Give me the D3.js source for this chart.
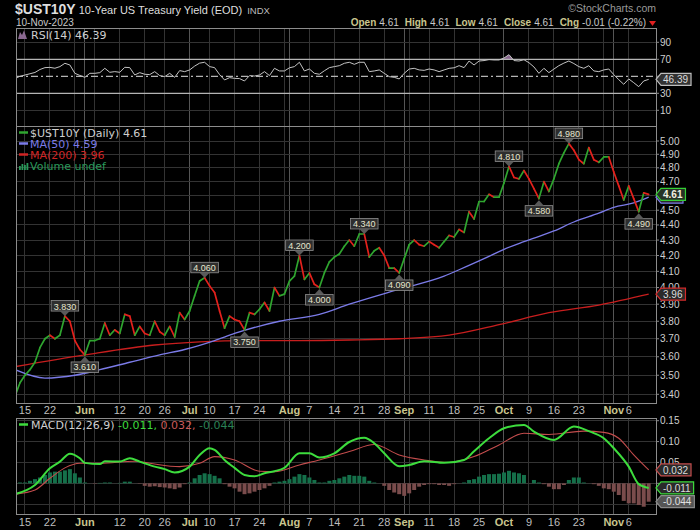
<!DOCTYPE html>
<html>
<head>
<meta charset="utf-8">
<script src="https://cdn.jsdelivr.net/npm/d3@7"></script>
<style>
    body { margin: 0; background: #000; }
    svg { display: block; }
</style>
</head>
<body>
<div id="chart"></div>
<script>
// trading days shown on the chart
const dates = [
    "2023-05-11","2023-05-12","2023-05-15","2023-05-16","2023-05-17","2023-05-18","2023-05-19","2023-05-22","2023-05-23","2023-05-24",
    "2023-05-25","2023-05-26","2023-05-30","2023-05-31","2023-06-01","2023-06-02","2023-06-05","2023-06-06","2023-06-07","2023-06-08",
    "2023-06-09","2023-06-12","2023-06-13","2023-06-14","2023-06-15","2023-06-16","2023-06-20","2023-06-21","2023-06-22","2023-06-23",
    "2023-06-26","2023-06-27","2023-06-28","2023-06-29","2023-06-30","2023-07-03","2023-07-05","2023-07-06","2023-07-07","2023-07-10",
    "2023-07-11","2023-07-12","2023-07-13","2023-07-14","2023-07-17","2023-07-18","2023-07-19","2023-07-20","2023-07-21","2023-07-24",
    "2023-07-25","2023-07-26","2023-07-27","2023-07-28","2023-07-31","2023-08-01","2023-08-02","2023-08-03","2023-08-04","2023-08-07",
    "2023-08-08","2023-08-09","2023-08-10","2023-08-11","2023-08-14","2023-08-15","2023-08-16","2023-08-17","2023-08-18","2023-08-21",
    "2023-08-22","2023-08-23","2023-08-24","2023-08-25","2023-08-28","2023-08-29","2023-08-30","2023-08-31","2023-09-01","2023-09-05",
    "2023-09-06","2023-09-07","2023-09-08","2023-09-11","2023-09-12","2023-09-13","2023-09-14","2023-09-15","2023-09-18","2023-09-19",
    "2023-09-20","2023-09-21","2023-09-22","2023-09-25","2023-09-26","2023-09-27","2023-09-28","2023-09-29","2023-10-02","2023-10-03",
    "2023-10-04","2023-10-05","2023-10-06","2023-10-09","2023-10-10","2023-10-11","2023-10-12","2023-10-13","2023-10-16","2023-10-17",
    "2023-10-18","2023-10-19","2023-10-20","2023-10-23","2023-10-24","2023-10-25","2023-10-26","2023-10-27","2023-10-30","2023-10-31",
    "2023-11-01","2023-11-02","2023-11-03","2023-11-06","2023-11-07","2023-11-08","2023-11-09","2023-11-10"
];

const closeValues = [
    3.39,3.46,3.50,3.53,3.57,3.65,3.70,3.72,3.70,3.72,
    3.83,3.80,3.69,3.64,3.61,3.69,3.69,3.70,3.79,3.72,
    3.75,3.73,3.84,3.83,3.72,3.77,3.73,3.72,3.80,3.74,
    3.72,3.77,3.71,3.85,3.81,3.86,3.95,4.04,4.06,4.01,
    3.97,3.86,3.76,3.83,3.81,3.80,3.75,3.85,3.84,3.87,
    3.91,3.86,4.00,3.95,3.96,4.04,4.07,4.20,4.05,4.09,
    4.02,4.00,4.09,4.16,4.19,4.21,4.26,4.30,4.26,4.34,
    4.34,4.19,4.23,4.25,4.20,4.12,4.12,4.09,4.18,4.27,
    4.30,4.27,4.26,4.29,4.27,4.25,4.29,4.33,4.32,4.37,
    4.35,4.49,4.44,4.56,4.56,4.61,4.59,4.59,4.69,4.81,
    4.73,4.72,4.78,4.72,4.65,4.58,4.70,4.63,4.72,4.83,
    4.91,4.98,4.93,4.86,4.83,4.95,4.86,4.84,4.88,4.88,
    4.77,4.67,4.57,4.67,4.58,4.49,4.62,4.61
];

const rsiValues = [
    47.5,50,51.5,53,54.5,58,60.2,60.5,59.5,61.4,
    65.3,63.3,53.5,51,48.8,53.5,53.5,54.3,59.4,54.7,
    55.5,54.7,60.6,60.2,51.6,54.3,52.4,52,55.5,50.8,
    49.6,53.5,48.8,56.7,55.5,57.5,62,65.5,66.5,61.4,
    60.2,52,45.7,48.4,47.6,47.3,44.5,50.8,50.3,51.5,
    55.5,50.8,59.4,56.3,56.3,60,61.4,66.5,56.3,58.6,
    53.5,52.4,56.5,60.2,61.4,62.5,65.3,66.5,64.1,66.5,
    66.5,55.5,56.3,57.5,53.5,49.6,48.8,46.9,53.5,58.5,
    59.4,57.5,57,58.6,57.5,55.5,57.5,59.4,60,62.5,
    60.2,68,63.3,68,68.5,69.6,69.2,69.2,71.5,75.5,
    68.5,68,69.5,66,61,53.5,59.4,54.3,58.5,62.5,
    65.5,68,65,61.4,59.4,62.5,56.3,55.5,57.5,58.6,
    52,46,40.6,46.9,42.5,37.8,44.5,46.39
];

const macdHist = [
    0.000,0.002,0.002,0.006,0.010,0.014,0.020,0.026,0.028,0.028,
    0.031,0.034,0.024,0.014,0.002,0.000,-0.001,0.001,0.002,0.002,
    0.000,0.001,0.004,0.004,0.000,-0.001,-0.006,-0.008,-0.007,-0.009,
    -0.010,-0.012,-0.014,-0.010,-0.002,0.002,0.012,0.020,0.024,0.022,
    0.018,0.012,-0.002,-0.008,-0.012,-0.020,-0.026,-0.024,-0.020,-0.016,
    -0.012,-0.006,0.002,0.004,0.006,0.010,0.016,0.022,0.020,0.014,
    0.008,0.002,0.002,0.006,0.008,0.012,0.016,0.020,0.018,0.018,
    0.016,0.006,0.002,0.000,-0.006,-0.016,-0.022,-0.026,-0.030,-0.024,
    -0.016,-0.008,-0.004,-0.002,-0.002,-0.004,-0.004,-0.006,-0.002,0.000,
    0.002,0.008,0.010,0.016,0.020,0.022,0.022,0.023,0.026,0.030,
    0.026,0.024,0.020,0.000,0.008,0.002,-0.002,-0.008,-0.014,-0.014,
    -0.004,0.008,0.014,0.014,0.002,0.000,-0.002,-0.006,-0.012,-0.014,
    -0.020,-0.028,-0.042,-0.048,-0.048,-0.052,-0.056,-0.044
];

const macdDates = ["2023-05-11","2023-05-17","2023-05-22","2023-05-24","2023-05-26","2023-05-31","2023-06-01","2023-06-06","2023-06-07","2023-06-12",
    "2023-06-14","2023-06-16","2023-06-22","2023-06-26","2023-06-28","2023-07-03","2023-07-06","2023-07-10","2023-07-11","2023-07-13",
    "2023-07-17","2023-07-19","2023-07-21","2023-07-25","2023-07-27","2023-07-31","2023-08-03","2023-08-07","2023-08-09","2023-08-14",
    "2023-08-17","2023-08-22","2023-08-24","2023-08-28","2023-08-31","2023-09-05","2023-09-08","2023-09-14","2023-09-20","2023-09-22",
    "2023-09-27","2023-10-02","2023-10-06","2023-10-10","2023-10-16","2023-10-20","2023-10-25","2023-10-30","2023-11-01","2023-11-06",
    "2023-11-08","2023-11-10"];
const macdValues = [-0.026,-0.004,0.036,0.052,0.071,0.060,0.049,0.046,0.053,0.052,
    0.060,0.052,0.040,0.034,0.026,0.040,0.068,0.084,0.080,0.056,
    0.037,0.020,0.017,0.024,0.029,0.037,0.072,0.072,0.062,0.072,
    0.099,0.109,0.096,0.072,0.041,0.044,0.053,0.049,0.056,0.077,
    0.108,0.132,0.140,0.124,0.104,0.136,0.125,0.108,0.084,0.040,
    -0.002,-0.011];

const signalDates = ["2023-05-11","2023-05-17","2023-05-22","2023-05-25","2023-05-31","2023-06-06","2023-06-15","2023-06-21","2023-06-29","2023-07-06",
    "2023-07-11","2023-07-17","2023-07-24","2023-07-27","2023-08-03","2023-08-09","2023-08-17","2023-08-24","2023-08-31","2023-09-08",
    "2023-09-15","2023-09-22","2023-09-29","2023-10-06","2023-10-13","2023-10-24","2023-10-30","2023-11-02","2023-11-07","2023-11-10"];
const signalValues = [-0.026,-0.016,0.012,0.037,0.048,0.048,0.053,0.048,0.040,0.048,
    0.064,0.056,0.029,0.028,0.044,0.056,0.076,0.093,0.068,0.056,
    0.050,0.064,0.092,0.120,0.117,0.125,0.122,0.108,0.068,0.032];

const ma50Dates = ["2023-05-11","2023-05-19","2023-05-30","2023-06-06","2023-06-14","2023-06-23","2023-06-30","2023-07-11","2023-07-17","2023-07-28",
    "2023-08-09","2023-08-17","2023-08-31","2023-09-14","2023-09-19","2023-09-26","2023-10-02","2023-10-06","2023-10-16","2023-10-20",
    "2023-10-27","2023-11-01","2023-11-07","2023-11-10"];
const ma50Values = [3.53,3.485,3.50,3.53,3.57,3.61,3.64,3.69,3.73,3.80,
    3.84,3.90,3.99,4.07,4.11,4.18,4.24,4.29,4.36,4.42,
    4.48,4.52,4.55,4.59];

const ma200Dates = ["2023-05-11","2023-06-01","2023-06-22","2023-07-06","2023-07-20","2023-08-03","2023-08-17","2023-08-31","2023-09-15","2023-09-29",
    "2023-10-13","2023-10-27","2023-11-10"];
const ma200Values = [3.546,3.61,3.665,3.683,3.69,3.69,3.693,3.70,3.72,3.78,3.85,3.895,3.96];

const peakDates = ["2023-05-25","2023-07-07","2023-08-03","2023-08-22","2023-10-03","2023-10-19"];
const troughDates = ["2023-06-01","2023-07-19","2023-08-09","2023-08-31","2023-10-11","2023-11-08"];

const weekTicks = ["2023-05-15","2023-05-22","2023-05-30","2023-06-05","2023-06-12","2023-06-20","2023-06-26","2023-07-10","2023-07-17","2023-07-24",
    "2023-07-31","2023-08-07","2023-08-14","2023-08-21","2023-08-28","2023-09-05","2023-09-11","2023-09-18","2023-09-25","2023-10-09",
    "2023-10-16","2023-10-23","2023-10-30","2023-11-06"];
const monthTicks = ["2023-06-01","2023-07-03","2023-08-01","2023-09-01","2023-10-02","2023-11-01"];
const monthLabels = ["Jun","Jul","Aug","Sep","Oct","Nov"];
const dayLabelDates = ["2023-05-15","2023-05-22","2023-06-12","2023-06-20","2023-06-26","2023-07-10","2023-07-17","2023-07-24","2023-08-07","2023-08-14",
    "2023-08-21","2023-08-28","2023-09-11","2023-09-18","2023-09-25","2023-10-09","2023-10-16","2023-10-23","2023-11-06"];

// grid levels; the labelled ones skip values hidden behind the value tags
const priceTicks = [3.4,3.5,3.6,3.7,3.8,3.9,4.0,4.1,4.2,4.3,4.4,4.5,4.6,4.7,4.8,4.9,5.0];
const priceTickLabels = [3.4,3.5,3.6,3.7,3.8,3.9,4.0,4.1,4.2,4.3,4.4,4.5,4.7,4.8,4.9,5.0];
const rsiTickLabels = [10,30,70,90];
const macdTicks = [-0.05,0,0.05,0.10,0.15];
const macdTickLabels = [-0.05,0.05,0.10,0.15];

const SANS = "'Liberation Sans', Arial, sans-serif";
const VERD = "'DejaVu Sans', Verdana, sans-serif";

class TreasuryChart {
    constructor(_parentElement) {
        this.parentElement = _parentElement;
        this.initVis();
    }

    initVis() {
        let vis = this;

        vis.left = 16;
        vis.right = 656;
        vis.panels = {
            rsi: { top: 28, bottom: 126 },
            main: { top: 126, bottom: 403 },
            macd: { top: 418, bottom: 514 },
        };

        vis.svg = d3.select(`#${vis.parentElement}`)
            .append("svg")
            .attr("width", 700)
            .attr("height", 530)
            .style("background", "#000");

        // Scales
        vis.x = d3.scalePoint().domain(dates).range([15, 648.7]);
        vis.yPrice = d3.scaleLog().domain([3.4, 5.0]).range([394.3, 141]);
        vis.yRsi = d3.scaleLinear().domain([30, 70]).range([93.3, 59.3]);
        vis.yMacd = d3.scaleLinear().domain([-0.05, 0.15]).range([504.2, 420.7]);

        let defs = vis.svg.append("defs");
        Object.entries(vis.panels).forEach(([key, p]) => {
            defs.append("clipPath").attr("id", "clip-" + key)
                .append("rect")
                .attr("x", vis.left).attr("y", p.top)
                .attr("width", vis.right - vis.left).attr("height", p.bottom - p.top);
        });
        defs.append("clipPath").attr("id", "clip-ob")
            .append("rect")
            .attr("x", vis.left).attr("y", vis.panels.rsi.top)
            .attr("width", vis.right - vis.left)
            .attr("height", vis.yRsi(70) - vis.panels.rsi.top);

        vis.drawHeader();
        vis.drawGrid();
        vis.drawRsi();
        vis.drawMain();
        vis.drawMacd();
        vis.drawDateAxis();
    }

    drawHeader() {
        let vis = this;
        let g = vis.svg.append("g").attr("font-family", SANS);

        let title = g.append("text").attr("x", 15).attr("y", 14).attr("fill", "#dedede");
        title.append("tspan").attr("font-size", 14).attr("font-weight", "bold").text("$UST10Y");
        title.append("tspan").attr("font-size", 11).attr("dx", 3).text("10-Year US Treasury Yield (EOD)");
        title.append("tspan").attr("font-size", 9.5).attr("dx", 5).attr("fill", "#bbb").text("INDX");

        g.append("text").attr("x", 16).attr("y", 26)
            .attr("font-size", 10).attr("fill", "#c8c8c8").text("10-Nov-2023");

        g.append("text").attr("x", 656).attr("y", 12).attr("text-anchor", "end")
            .attr("font-size", 10.5).attr("fill", "#9a9a9a").text("\u00A9StockCharts.com");

        let ohlc = g.append("text").attr("x", 646).attr("y", 26)
            .attr("text-anchor", "end").attr("font-size", 10);
        [["Open", "4.61"], ["High", "4.61"], ["Low", "4.61"], ["Close", "4.61"], ["Chg", "-0.01 (-0.22%)"]]
            .forEach((d, i) => {
                ohlc.append("tspan").attr("dx", i ? 6 : 0).attr("font-weight", "bold")
                    .attr("fill", "#c9c58e").text(d[0]);
                ohlc.append("tspan").attr("dx", 3).attr("fill", "#c8c8c8").text(d[1]);
            });
        g.append("path").attr("d", "M649,21 L656,21 L652.5,26 Z").attr("fill", "#e02020");
    }

    drawGrid() {
        let vis = this;

        Object.values(vis.panels).forEach((p) => {
            let g = vis.svg.append("g").attr("shape-rendering", "crispEdges");
            g.selectAll("line.wk").data(weekTicks).enter().append("line")
                .attr("class", "wk")
                .attr("x1", (d) => vis.x(d)).attr("x2", (d) => vis.x(d))
                .attr("y1", p.top).attr("y2", p.bottom)
                .attr("stroke", "#333");
            g.selectAll("line.mo").data(monthTicks).enter().append("line")
                .attr("class", "mo")
                .attr("x1", (d) => vis.x(d)).attr("x2", (d) => vis.x(d))
                .attr("y1", p.top).attr("y2", p.bottom)
                .attr("stroke", "#555");
        });

        let hGrid = (ticks, scale) => {
            vis.svg.append("g").attr("shape-rendering", "crispEdges")
                .selectAll("line").data(ticks).enter().append("line")
                .attr("x1", vis.left).attr("x2", vis.right)
                .attr("y1", (d) => scale(d)).attr("y2", (d) => scale(d))
                .attr("stroke", "#333");
        };
        hGrid(priceTicks, vis.yPrice);
        hGrid([10, 90], vis.yRsi);
        hGrid(macdTicks, vis.yMacd);
    }

    axisLabels(ticks, labels, scale, fmt) {
        let vis = this;
        let g = vis.svg.append("g");
        g.selectAll("line").data(ticks).enter().append("line")
            .attr("x1", vis.right).attr("x2", vis.right + 3)
            .attr("y1", (d) => scale(d)).attr("y2", (d) => scale(d))
            .attr("stroke", "#8a8a8a");
        g.selectAll("text").data(labels).enter().append("text")
            .attr("x", vis.right + 4)
            .attr("y", (d) => scale(d) + 3.5)
            .attr("font-family", SANS).attr("font-size", 10)
            .attr("fill", "#cfcfcf")
            .text((d) => fmt(d));
    }

    valueTag(yPos, label, stroke, fill, color, bold) {
        let vis = this;
        let g = vis.svg.append("g");
        let t = g.append("text")
            .attr("x", vis.right + 7).attr("y", yPos + 3.6)
            .attr("font-family", SANS).attr("font-size", 10)
            .attr("font-weight", bold ? "bold" : "normal")
            .attr("fill", color).text(label);
        let x1 = vis.right + 7 + t.node().getComputedTextLength() + 3;
        if (label === "") x1 = vis.right + 27;
        g.insert("path", () => t.node())
            .attr("d", `M${vis.right},${yPos} L${vis.right + 5},${yPos - 6} L${x1},${yPos - 6} L${x1},${yPos + 6} L${vis.right + 5},${yPos + 6} Z`)
            .attr("fill", fill).attr("stroke", stroke).attr("stroke-width", 1.2);
        if (label === "") t.remove();
    }

    panelFrame(p) {
        let vis = this;
        vis.svg.append("rect")
            .attr("x", vis.left + 0.5).attr("y", p.top + 0.5)
            .attr("width", vis.right - vis.left).attr("height", p.bottom - p.top)
            .attr("fill", "none").attr("stroke", "#8c8c8c");
    }

    drawRsi() {
        let vis = this;
        let p = vis.panels.rsi;
        let plot = vis.svg.append("g").attr("clip-path", "url(#clip-rsi)");

        // overbought fill
        plot.append("path")
            .datum(rsiValues)
            .attr("clip-path", "url(#clip-ob)")
            .attr("fill", "#8a6890")
            .attr("d", d3.area()
                .x((d, i) => vis.x(dates[i]))
                .y0(vis.yRsi(70))
                .y1((d) => vis.yRsi(d)));

        [30, 70].forEach((v) => {
            plot.append("line").attr("x1", vis.left).attr("x2", vis.right)
                .attr("y1", vis.yRsi(v)).attr("y2", vis.yRsi(v))
                .attr("stroke", "#b4b4b4").attr("stroke-width", 1.2);
        });
        plot.append("line").attr("x1", vis.left).attr("x2", vis.right)
            .attr("y1", vis.yRsi(50)).attr("y2", vis.yRsi(50))
            .attr("stroke", "#b4b4b4").attr("stroke-width", 1.2)
            .attr("stroke-dasharray", "7,3,2,3");

        plot.append("path")
            .datum(rsiValues)
            .attr("fill", "none").attr("stroke", "#c4c4c4").attr("stroke-width", 1)
            .attr("d", d3.line().x((d, i) => vis.x(dates[i])).y((d) => vis.yRsi(d)));

        vis.panelFrame(p);

        // legend
        vis.svg.append("path").attr("d", "M18,39 L20,32 L22,35 L24,30.5 L27,39 Z").attr("fill", "#8a6890");
        vis.svg.append("text").attr("x", 31).attr("y", 39)
            .attr("font-family", VERD).attr("font-size", 11).attr("fill", "#cfcfcf")
            .text("RSI(14) 46.39");

        vis.axisLabels([10, 30, 50, 70, 90], rsiTickLabels, vis.yRsi, (d) => d);
        vis.valueTag(vis.yRsi(46.39), "46.39", "#bdbdbd", "#333", "#dcdcdc", false);
    }

    drawMain() {
        let vis = this;
        let p = vis.panels.main;
        let plot = vis.svg.append("g").attr("clip-path", "url(#clip-main)");

        let maLine = d3.line()
            .curve(d3.curveMonotoneX)
            .x((d) => vis.x(d[0]))
            .y((d) => vis.yPrice(d[1]));

        plot.append("path")
            .datum(d3.zip(ma200Dates, ma200Values))
            .attr("fill", "none").attr("stroke", "#c81e1e").attr("stroke-width", 1.3)
            .attr("d", maLine);
        plot.append("path")
            .datum(d3.zip(ma50Dates, ma50Values))
            .attr("fill", "none").attr("stroke", "#7b7be8").attr("stroke-width", 1.3)
            .attr("d", maLine);

        // close line, green on up days and red on down days
        plot.selectAll("line.seg")
            .data(d3.range(1, closeValues.length))
            .enter().append("line")
            .attr("class", "seg")
            .attr("x1", (i) => vis.x(dates[i - 1]))
            .attr("y1", (i) => vis.yPrice(closeValues[i - 1]))
            .attr("x2", (i) => vis.x(dates[i]))
            .attr("y2", (i) => vis.yPrice(closeValues[i]))
            .attr("stroke", (i) => closeValues[i] >= closeValues[i - 1] ? "#2fa52f" : "#e3211c")
            .attr("stroke-width", 1.7)
            .attr("stroke-linecap", "round");

        // high / low annotations
        let annot = vis.svg.append("g").attr("font-family", SANS).attr("font-size", 9);
        let addNote = (d, above) => {
            let i = dates.indexOf(d);
            let px = vis.x(d);
            let py = vis.yPrice(closeValues[i]);
            let g = annot.append("g");
            let ty = above ? py - 6.5 : py + 15.5;
            let t = g.append("text").attr("x", px).attr("y", ty)
                .attr("text-anchor", "middle").attr("fill", "#e6e6cf")
                .text(closeValues[i].toFixed(3));
            let w = t.node().getComputedTextLength() + 5;
            let bTop = above ? py - 15.5 : py + 7;
            g.insert("rect", () => t.node())
                .attr("x", px - w / 2).attr("y", bTop)
                .attr("width", w).attr("height", 10.5)
                .attr("fill", "#2e2e2e").attr("stroke", "#8e8e8e").attr("stroke-width", 0.8);
            let tri = above
                ? `M${px - 5},${py - 5} L${px + 5},${py - 5} L${px},${py} Z`
                : `M${px - 5},${py + 7} L${px + 5},${py + 7} L${px},${py + 1.5} Z`;
            g.insert("path", () => t.node()).attr("d", tri).attr("fill", "#5a5a5a");
        };
        peakDates.forEach((d) => addNote(d, true));
        troughDates.forEach((d) => addNote(d, false));

        vis.panelFrame(p);

        // legend
        let leg = vis.svg.append("g").attr("font-family", VERD).attr("font-size", 11);
        [
            ["$UST10Y (Daily) 4.61", "#cfcfcf", "#2fa52f"],
            ["MA(50) 4.59", "#7b7be8", "#7b7be8"],
            ["MA(200) 3.96", "#d02424", "#d02424"],
        ].forEach((d, i) => {
            let y = 136.5 + i * 11;
            leg.append("line").attr("x1", 19).attr("x2", 28)
                .attr("y1", y - 4).attr("y2", y - 4)
                .attr("stroke", d[2]).attr("stroke-width", 2.5);
            leg.append("text").attr("x", 30).attr("y", y).attr("fill", d[1]).text(d[0]);
        });
        [[19, 4], [21.5, 6], [24, 5], [26.5, 7]].forEach((b) => {
            leg.append("rect").attr("x", b[0]).attr("y", 170 - b[1])
                .attr("width", 1.8).attr("height", b[1]).attr("fill", "#2a9a5a");
        });
        leg.append("text").attr("x", 30).attr("y", 169.5).attr("fill", "#2a9a5a").text("Volume undef");

        vis.axisLabels(priceTicks, priceTickLabels, vis.yPrice, d3.format(".2f"));
        vis.valueTag(vis.yPrice(3.96), "3.96", "#d42a2a", "#2a2a2a", "#dcdcdc", false);
        // MA(50) tag sits almost fully behind the close tag
        vis.valueTag(vis.yPrice(4.59), "", "#7b7be8", "#2a2a2a", "#dcdcdc", false);
        vis.valueTag(vis.yPrice(4.61), "4.61", "#35d035", "#263226", "#f0f0e0", true);
    }

    drawMacd() {
        let vis = this;
        let p = vis.panels.macd;
        let plot = vis.svg.append("g").attr("clip-path", "url(#clip-macd)");

        plot.selectAll("rect.hist")
            .data(macdHist)
            .enter().append("rect")
            .attr("class", "hist")
            .attr("x", (d, i) => vis.x(dates[i]) - 2)
            .attr("width", 4)
            .attr("y", (d) => Math.min(vis.yMacd(d), vis.yMacd(0)))
            .attr("height", (d) => Math.abs(vis.yMacd(d) - vis.yMacd(0)))
            .attr("fill", (d) => d >= 0 ? "#15704a" : "#7a4c4c");

        let line = d3.line()
            .curve(d3.curveMonotoneX)
            .x((d) => vis.x(d[0]))
            .y((d) => vis.yMacd(d[1]));

        plot.append("path")
            .datum(d3.zip(signalDates, signalValues))
            .attr("fill", "none").attr("stroke", "#c24c4c").attr("stroke-width", 1.1)
            .attr("d", line);
        plot.append("path")
            .datum(d3.zip(macdDates, macdValues))
            .attr("fill", "none").attr("stroke", "#3ddc3d").attr("stroke-width", 2)
            .attr("d", line);

        vis.panelFrame(p);

        // legend
        vis.svg.append("line").attr("x1", 19).attr("x2", 28)
            .attr("y1", 424.5).attr("y2", 424.5)
            .attr("stroke", "#3ddc3d").attr("stroke-width", 2.5);
        let lt = vis.svg.append("text").attr("x", 31).attr("y", 428.5)
            .attr("font-family", VERD).attr("font-size", 11);
        lt.append("tspan").attr("fill", "#cfcfcf").text("MACD(12,26,9) ");
        lt.append("tspan").attr("fill", "#3ddc3d").text("-0.011, ");
        lt.append("tspan").attr("fill", "#c85a5a").text("0.032, ");
        lt.append("tspan").attr("fill", "#2a8055").text("-0.044");

        vis.axisLabels(macdTicks, macdTickLabels, vis.yMacd, d3.format(".2f"));
        vis.valueTag(vis.yMacd(0.032), "0.032", "#c24c4c", "#2a2a2a", "#dcdcdc", false);
        vis.valueTag(vis.yMacd(-0.011), "-0.011", "#3ddc3d", "#2a2a2a", "#dcdcdc", false);
        vis.valueTag(vis.yMacd(-0.044), "-0.044", "#8a8a8a", "#555", "#e0e0e0", false);
    }

    drawDateAxis() {
        let vis = this;
        [413.5, 525.5].forEach((y) => {
            let g = vis.svg.append("g").attr("font-family", SANS).attr("font-size", 11)
                .attr("text-anchor", "middle");
            g.selectAll("text.day").data(dayLabelDates).enter().append("text")
                .attr("class", "day")
                .attr("x", (d) => vis.x(d)).attr("y", y)
                .attr("fill", "#bdbdbd")
                .text((d) => +d.slice(8));
            g.selectAll("text.mon").data(monthTicks).enter().append("text")
                .attr("class", "mon")
                .attr("x", (d) => vis.x(d)).attr("y", y)
                .attr("fill", "#c9c58e").attr("font-weight", "bold")
                .text((d, i) => monthLabels[i]);
        });
    }
}

new TreasuryChart("chart");
</script>
</body>
</html>
